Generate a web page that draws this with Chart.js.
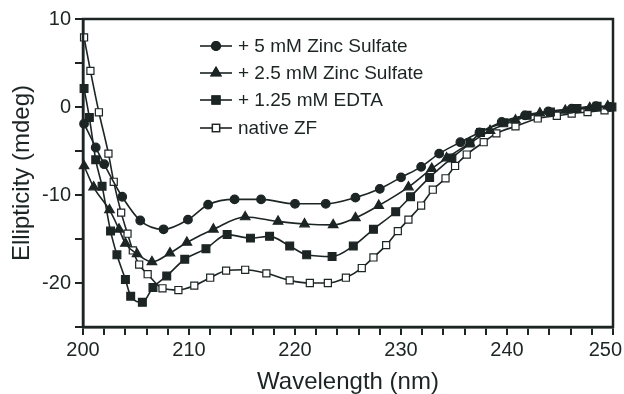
<!DOCTYPE html>
<html>
<head>
<meta charset="utf-8">
<script src="https://cdn.jsdelivr.net/npm/chart.js@4.4.1/dist/chart.umd.min.js"></script>
<style>
  html, body { margin: 0; padding: 0; background: #fff; }
</style>
</head>
<body>
<canvas id="cdChart" width="624" height="394"></canvas>
<script>
// CD spectra (wavelength nm, ellipticity mdeg)
const seriesNames = ['+ 5 mM Zinc Sulfate', '+ 2.5 mM Zinc Sulfate', '+ 1.25 mM EDTA', 'native ZF'];

const zinc5Nm   = [200.1, 201.2, 202.0, 203.7, 205.4, 207.6, 209.9, 211.8, 214.3, 216.8, 220.0, 222.9, 225.7, 228.0, 230.0, 231.9, 233.6, 235.6, 237.4, 239.5, 241.7, 243.9, 246.1, 248.4, 249.7];
const zinc5Mdeg = [-1.9, -4.6, -6.5, -10.2, -12.9, -13.9, -12.8, -11.1, -10.5, -10.5, -11.0, -11.0, -10.3, -9.3, -8.0, -6.8, -5.3, -4.0, -2.9, -1.7, -0.95, -0.5, -0.2, 0.1, 0.0];

const zinc25Nm   = [200.1, 201.0, 202.5, 203.4, 204.0, 205.1, 206.5, 208.2, 209.8, 212.3, 215.3, 218.4, 220.9, 223.6, 225.7, 227.9, 230.7, 232.9, 234.3, 236.5, 238.4, 240.8, 243.1, 245.5, 247.8, 249.5];
const zinc25Mdeg = [-6.7, -9.1, -11.7, -13.9, -15.5, -16.7, -17.6, -16.6, -15.4, -13.9, -12.5, -13.0, -13.3, -13.4, -12.6, -11.2, -9.1, -7.0, -5.8, -4.1, -2.7, -1.5, -0.7, -0.4, -0.1, 0.1];

const edtaNm   = [200.1, 200.6, 201.2, 201.8, 202.6, 203.2, 204.0, 204.5, 205.6, 206.6, 207.9, 209.6, 211.6, 213.6, 215.8, 217.6, 219.5, 221.1, 223.5, 225.5, 227.4, 229.5, 230.9, 232.7, 234.8, 236.5, 237.5, 239.7, 241.9, 244.1, 246.6, 248.5, 249.9];
const edtaMdeg = [2.1, -1.2, -6.0, -9.0, -14.1, -16.8, -19.6, -21.5, -22.2, -20.5, -19.2, -17.3, -16.1, -14.5, -14.9, -14.7, -15.8, -16.8, -17.0, -15.8, -13.9, -11.9, -10.2, -8.0, -5.8, -4.1, -2.9, -1.8, -0.95, -0.57, -0.18, 0.08, 0.0];

const nativeNm   = [200.1, 200.7, 201.5, 202.4, 202.9, 203.6, 204.2, 204.7, 205.3, 206.1, 207.5, 209.0, 210.5, 212.0, 213.5, 215.3, 217.3, 219.5, 221.4, 223.1, 224.8, 226.3, 227.4, 228.6, 229.7, 230.7, 231.9, 233.0, 234.2, 235.1, 236.2, 237.8, 239.0, 240.8, 242.9, 244.7, 246.1, 247.6, 249.2];
const nativeMdeg = [7.9, 4.1, -0.6, -5.3, -8.5, -12.0, -14.4, -16.3, -17.9, -19.0, -20.6, -20.8, -20.3, -19.4, -18.6, -18.5, -18.9, -19.7, -20.0, -20.0, -19.4, -18.3, -17.1, -15.7, -14.1, -12.8, -11.2, -9.4, -8.1, -6.7, -5.4, -4.0, -3.0, -2.2, -1.3, -1.0, -0.75, -0.57, -0.38];

const xTickLabels = [200, 210, 220, 230, 240, 250];
const yTickLabels = [10, 0, -10, -20];

const ink = '#1c2424';
const fontFamily = '"Liberation Sans", Arial, sans-serif';
const pair = (xs, ys) => xs.map((x, i) => ({ x: x, y: ys[i] }));
const lastXLabel = xTickLabels[xTickLabels.length - 1];

const markerStyles = [
  { pointStyle: 'circle',   radius: 4.3, fill: ink },
  { pointStyle: 'triangle', radius: 5.5, fill: ink },
  { pointStyle: 'rect',     radius: 5.5, fill: ink },
  { pointStyle: 'rect',     radius: 5,   fill: '#fff' }
];

const makeSet = (i, xs, ys) => ({
  label: seriesNames[i],
  data: pair(xs, ys),
  borderColor: ink,
  borderWidth: 1.6,
  pointStyle: markerStyles[i].pointStyle,
  pointRadius: markerStyles[i].radius,
  pointBackgroundColor: markerStyles[i].fill,
  pointBorderColor: ink,
  pointBorderWidth: 1.2,
  cubicInterpolationMode: 'monotone',
  clip: false
});

// frame round the plot, legend inside top-left, last x label kept on the canvas
const framePlugin = {
  id: 'frame',
  afterDraw(chart) {
    const { ctx, chartArea } = chart;
    ctx.save();
    ctx.strokeStyle = ink;
    ctx.lineWidth = 2.5;
    ctx.strokeRect(chartArea.left, chartArea.top, chartArea.right - chartArea.left, chartArea.bottom - chartArea.top);

    // legend
    const rows = [46, 73, 100, 128];
    ctx.font = '19px ' + fontFamily;
    ctx.textBaseline = 'middle';
    rows.forEach((y, i) => {
      ctx.beginPath();
      ctx.lineWidth = 1.6;
      ctx.moveTo(200, y);
      ctx.lineTo(232, y);
      ctx.stroke();
      Chart.helpers.drawPoint(ctx, {
        pointStyle: markerStyles[i].pointStyle,
        radius: markerStyles[i].radius,
        rotation: 0,
        borderWidth: 1.2
      }, 216, y);
      ctx.fillStyle = markerStyles[i].fill;
      ctx.fill();
      ctx.lineWidth = 1.2;
      ctx.stroke();
      ctx.fillStyle = ink;
      ctx.fillText(seriesNames[i], 238, y + 1);
    });

    // "250" would be cut by the canvas edge if centred on its tick
    const xs = chart.scales.x;
    ctx.font = '20px ' + fontFamily;
    ctx.textAlign = 'right';
    ctx.textBaseline = 'top';
    ctx.fillStyle = ink;
    const px = Math.min(xs.getPixelForValue(lastXLabel) + 18, chart.width - 2);
    ctx.fillText(String(lastXLabel), px, chartArea.bottom + 13);
    ctx.restore();
  }
};

new Chart(document.getElementById('cdChart'), {
  type: 'line',
  data: {
    datasets: [
      makeSet(0, zinc5Nm, zinc5Mdeg),
      makeSet(1, zinc25Nm, zinc25Mdeg),
      makeSet(2, edtaNm, edtaMdeg),
      makeSet(3, nativeNm, nativeMdeg)
    ]
  },
  options: {
    responsive: false,
    devicePixelRatio: 1,
    animation: false,
    layout: { padding: { top: 19, right: 11, left: 0, bottom: 0 } },
    plugins: { legend: { display: false }, tooltip: { enabled: false } },
    scales: {
      x: {
        type: 'linear',
        min: 200,
        max: 250,
        afterFit: (scale) => {
          scale.height = 67;
          scale.paddingRight = 0;
          scale.paddingLeft = 0;
        },
        ticks: {
          stepSize: 2,
          autoSkip: false,
          maxRotation: 0,
          padding: 3,
          color: ink,
          font: { size: 20, family: fontFamily },
          callback: (v) => (xTickLabels.includes(v) && v !== lastXLabel) ? String(v) : ''
        },
        grid: { drawOnChartArea: false, tickLength: 8, color: ink, lineWidth: 2 },
        border: { color: ink, width: 2.5 },
        title: {
          display: true,
          text: 'Wavelength (nm)',
          color: ink,
          font: { size: 24, family: fontFamily },
          padding: { top: 0, bottom: -3 }
        }
      },
      y: {
        min: -25,
        max: 10,
        afterFit: (scale) => {
          scale.width = 83;
          scale.paddingTop = 0;
          scale.paddingBottom = 0;
        },
        ticks: {
          stepSize: 5,
          autoSkip: false,
          padding: 4,
          color: ink,
          font: { size: 20, family: fontFamily },
          callback: (v) => yTickLabels.includes(v) ? String(v) : ''
        },
        grid: { drawOnChartArea: false, tickLength: 8, color: ink, lineWidth: 2 },
        border: { color: ink, width: 2.5 },
        title: {
          display: true,
          text: 'Ellipticity (mdeg)',
          color: ink,
          font: { size: 24, family: fontFamily },
          padding: { top: 8, bottom: 0 }
        }
      }
    }
  },
  plugins: [framePlugin]
});
</script>
</body>
</html>
